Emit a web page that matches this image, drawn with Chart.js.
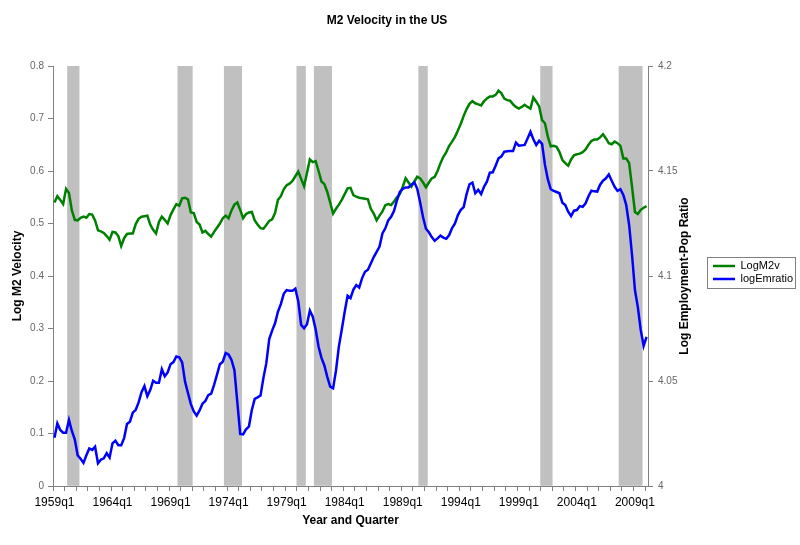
<!DOCTYPE html>
<html>
<head>
<meta charset="utf-8">
<script src="https://cdn.jsdelivr.net/npm/chart.js@4/dist/chart.umd.min.js"></script>
<style>
  html, body { margin: 0; padding: 0; background: #fff; }
</style>
</head>
<body>
<canvas id="myChart" width="800" height="545"></canvas>
<script>
const lastQuarter = "2010q1";

const quarters = [];
for (let y = 1959; y <= 2010; y++) {
    for (let q = 1; q <= 4; q++) {
        quarters.push(y + "q" + q);
    }
}
quarters.length = quarters.indexOf(lastQuarter) + 1;

// NBER recessions (shaded)
const recessions = [
    ["1960q2", "1961q1"], ["1969q4", "1970q4"], ["1973q4", "1975q1"],
    ["1980q1", "1980q3"], ["1981q3", "1982q4"], ["1990q3", "1991q1"],
    ["2001q1", "2001q4"], ["2007q4", "2009q3"]
];

const logM2v = [
    .540, .552, .545, .537, .566, .558, .525, .507, .506, .511,
    .513, .511, .518, .517, .506, .487, .485, .482, .476, .469,
    .484, .483, .476, .457, .472, .480, .481, .481, .499, .509,
    .513, .514, .515, .498, .488, .481, .503, .513, .507, .500,
    .516, .527, .537, .534, .548, .549, .546, .521, .520, .503,
    .498, .483, .486, .480, .475, .484, .492, .500, .510, .515,
    .510, .525, .536, .540, .526, .510, .518, .521, .522, .506,
    .498, .491, .490, .497, .505, .508, .520, .545, .552, .565,
    .573, .576, .581, .590, .599, .585, .571, .596, .622, .617,
    .619, .600, .580, .575, .560, .540, .519, .528, .536, .545,
    .556, .567, .568, .554, .551, .549, .548, .547, .546, .528,
    .519, .506, .515, .523, .535, .537, .535, .542, .550, .556,
    .570, .586, .578, .570, .580, .589, .586, .578, .569, .578,
    .586, .589, .600, .615, .627, .636, .648, .656, .665, .677,
    .690, .705, .718, .728, .733, .729, .727, .725, .733, .738,
    .742, .742, .745, .753, .748, .738, .735, .734, .727, .722,
    .719, .722, .726, .722, .719, .740, .732, .723, .697, .691,
    .665, .647, .648, .646, .636, .621, .615, .610, .622, .630,
    .632, .633, .636, .641, .650, .657, .660, .660, .664, .670,
    .662, .653, .651, .656, .653, .648, .624, .624, .615, .570,
    .522, .518, .526, .530, .533
];

const logEmratio = [
    4.0230, 4.0298, 4.0267, 4.0254, 4.0254, 4.0314, 4.0262, 4.0222, 4.0146, 4.0130,
    4.0110, 4.0146, 4.0179, 4.0172, 4.0187, 4.0108, 4.0125, 4.0132, 4.0156, 4.0135,
    4.0203, 4.0216, 4.0194, 4.0194, 4.0228, 4.0295, 4.0306, 4.0349, 4.0363, 4.0398,
    4.0447, 4.0476, 4.0428, 4.0457, 4.0501, 4.0492, 4.0492, 4.0556, 4.0523, 4.0541,
    4.0580, 4.0590, 4.0617, 4.0613, 4.0588, 4.0497, 4.0443, 4.0390, 4.0355, 4.0335,
    4.0360, 4.0392, 4.0405, 4.0433, 4.0440, 4.0482, 4.0530, 4.0580, 4.0592, 4.0633,
    4.0626, 4.0600, 4.0552, 4.0400, 4.0248, 4.0246, 4.0270, 4.0283, 4.0362, 4.0415,
    4.0422, 4.0431, 4.0515, 4.0585, 4.0700, 4.0740, 4.0775, 4.0830, 4.0866, 4.0915,
    4.0933, 4.0930, 4.0930, 4.0940, 4.0880, 4.0767, 4.0751, 4.0770, 4.0835, 4.0806,
    4.0745, 4.0663, 4.0610, 4.0574, 4.0520, 4.0473, 4.0465, 4.0550, 4.0665, 4.0745,
    4.0830, 4.0906, 4.0895, 4.0935, 4.0957, 4.0945, 4.0990, 4.1020, 4.1030, 4.1060,
    4.1090, 4.1115, 4.1140, 4.1203, 4.1227, 4.1265, 4.1282, 4.1310, 4.1360, 4.1400,
    4.1415, 4.1422, 4.1422, 4.1435, 4.1446, 4.1415, 4.1350, 4.1280, 4.1225, 4.1208,
    4.1185, 4.1168, 4.1179, 4.1192, 4.1183, 4.1177, 4.1195, 4.1228, 4.1250, 4.1290,
    4.1315, 4.1328, 4.1390, 4.1437, 4.1445, 4.1394, 4.1410, 4.1390, 4.1425, 4.1449,
    4.1492, 4.1494, 4.1525, 4.1560, 4.1570, 4.1592, 4.1594, 4.1595, 4.1595, 4.1635,
    4.1621, 4.1622, 4.1624, 4.1655, 4.1687, 4.1651, 4.1624, 4.1644, 4.1629, 4.1529,
    4.1460, 4.1413, 4.1405, 4.1400, 4.1394, 4.1349, 4.1338, 4.1306, 4.1285, 4.1311,
    4.1314, 4.1333, 4.1329, 4.1346, 4.1380, 4.1406, 4.1403, 4.1402, 4.1435, 4.1454,
    4.1465, 4.1484, 4.1454, 4.1425, 4.1405, 4.1413, 4.1386, 4.1338, 4.1243, 4.1100,
    4.0933, 4.0852, 4.0743, 4.0667, 4.0710
];

const leftTicks = [0, 0.1, 0.2, 0.3, 0.4, 0.5, 0.6, 0.7, 0.8];
const rightTicks = [4, 4.05, 4.1, 4.15, 4.2];
const rightTitle = "Log Employment-Pop Ratio";

const shadeTop = leftTicks[leftTicks.length - 1];
const recessionShade = quarters.map((q, i) =>
    recessions.some(([a, b]) => i >= quarters.indexOf(a) && i <= quarters.indexOf(b)) ? shadeTop : null
);

const fmt = v => String(parseFloat(v.toFixed(2)));

// frame round the legend, like the spreadsheet one
const legendFrame = {
    id: "legendFrame",
    afterDraw(chart) {
        const boxes = chart.legend.legendHitBoxes;
        if (!boxes || !boxes.length) return;
        const last = boxes[boxes.length - 1];
        const top = Math.round(boxes[0].top) - 4;
        const bottom = Math.round(last.top + last.height) + 3;
        const c = chart.ctx;
        c.save();
        c.strokeStyle = "#808080";
        c.lineWidth = 1;
        c.strokeRect(Math.round(chart.legend.left) - 3.5, top + 0.5, 88, bottom - top);
        c.restore();
    }
};

// right axis title reads bottom-to-top in the original (chart.js turns it the other way)
const rightAxisTitle = {
    id: "rightAxisTitle",
    afterDraw(chart) {
        const s = chart.scales.y1;
        const c = chart.ctx;
        c.save();
        c.translate(s.right - 26, (chart.chartArea.top + chart.chartArea.bottom) / 2);
        c.rotate(-Math.PI / 2);
        c.font = "bold 12px 'Liberation Sans', Arial, sans-serif";
        c.fillStyle = "#000";
        c.textAlign = "center";
        c.textBaseline = "middle";
        c.fillText(rightTitle, 0, 0);
        c.restore();
    }
};

// title sits a bit left of the canvas centre in the original
const titleShift = {
    id: "titleShift",
    afterLayout(chart) {
        chart.titleBlock.left -= 13;
        chart.titleBlock.right -= 13;
    }
};

Chart.defaults.font.family = "'Liberation Sans', Arial, sans-serif";

const ctx = document.getElementById("myChart");

new Chart(ctx, {
    type: "line",
    data: {
        labels: quarters,
        datasets: [{
            label: "LogM2v",
            data: logM2v,
            yAxisID: "y",
            borderColor: "#008000",
            backgroundColor: "#008000",
            borderWidth: 2.5,
            pointRadius: 0,
            order: 1
        }, {
            label: "logEmratio",
            data: logEmratio,
            yAxisID: "y1",
            borderColor: "#0000ff",
            backgroundColor: "#0000ff",
            borderWidth: 2.5,
            pointRadius: 0,
            order: 0
        }, {
            type: "bar",
            label: "Recession",
            data: recessionShade,
            yAxisID: "y",
            backgroundColor: "#c0c0c0",
            borderWidth: 0,
            barPercentage: 1,
            categoryPercentage: 1,
            order: 2
        }]
    },
    options: {
        responsive: false,
        animation: false,
        devicePixelRatio: 1,
        layout: { padding: 0 },
        plugins: {
            title: {
                display: true,
                text: "M2 Velocity in the US",
                color: "#000",
                font: { size: 12, weight: "bold" },
                padding: { top: 13, bottom: 38.6 }
            },
            legend: {
                position: "right",
                maxWidth: 89,
                labels: {
                    filter: item => item.datasetIndex !== 2,
                    sort: (a, b) => a.datasetIndex - b.datasetIndex,
                    usePointStyle: true,
                    pointStyle: "line",
                    pointStyleWidth: 22,
                    boxHeight: 11,
                    padding: 2,
                    color: "#000",
                    font: { size: 11 }
                }
            },
            tooltip: { enabled: false }
        },
        scales: {
            x: {
                type: "category",
                offset: true,
                afterFit: scale => { scale.height = 59; },
                grid: {
                    offset: true,
                    drawOnChartArea: false,
                    tickLength: 5,
                    color: c => c.index % 4 === 0 ? "#808080" : "rgba(0,0,0,0)"
                },
                border: { color: "#808080" },
                ticks: {
                    autoSkip: false,
                    maxRotation: 0,
                    minRotation: 0,
                    padding: 4,
                    color: "#000",
                    font: { size: 12 },
                    callback: function (v, i) {
                        return i % 20 === 0 ? this.getLabelForValue(v) : "";
                    }
                },
                title: {
                    display: true,
                    text: "Year and Quarter",
                    color: "#000",
                    font: { size: 12, weight: "bold" },
                    padding: { top: 0, bottom: 17 }
                }
            },
            y: {
                position: "left",
                min: leftTicks[0],
                max: shadeTop,
                afterFit: scale => { scale.width = 53; },
                afterBuildTicks: scale => { scale.ticks = leftTicks.map(v => ({ value: v })); },
                grid: { drawOnChartArea: false, tickLength: 5, color: "#808080" },
                border: { color: "#808080" },
                ticks: {
                    padding: 4,
                    color: "#666",
                    font: { size: 10 },
                    callback: v => fmt(v)
                },
                title: {
                    display: true,
                    text: "Log M2 Velocity",
                    color: "#000",
                    font: { size: 12, weight: "bold" },
                    padding: { top: 10, bottom: 0 }
                }
            },
            y1: {
                position: "right",
                min: rightTicks[0],
                max: rightTicks[rightTicks.length - 1],
                afterFit: scale => { scale.width = 63; },
                afterBuildTicks: scale => { scale.ticks = rightTicks.map(v => ({ value: v })); },
                grid: { drawOnChartArea: false, tickLength: 5, color: "#808080" },
                border: { color: "#808080" },
                ticks: {
                    padding: 5,
                    color: "#666",
                    font: { size: 10 },
                    callback: v => fmt(v)
                },
                title: { display: false }
            }
        }
    },
    plugins: [legendFrame, rightAxisTitle, titleShift]
});
</script>
</body>
</html>
